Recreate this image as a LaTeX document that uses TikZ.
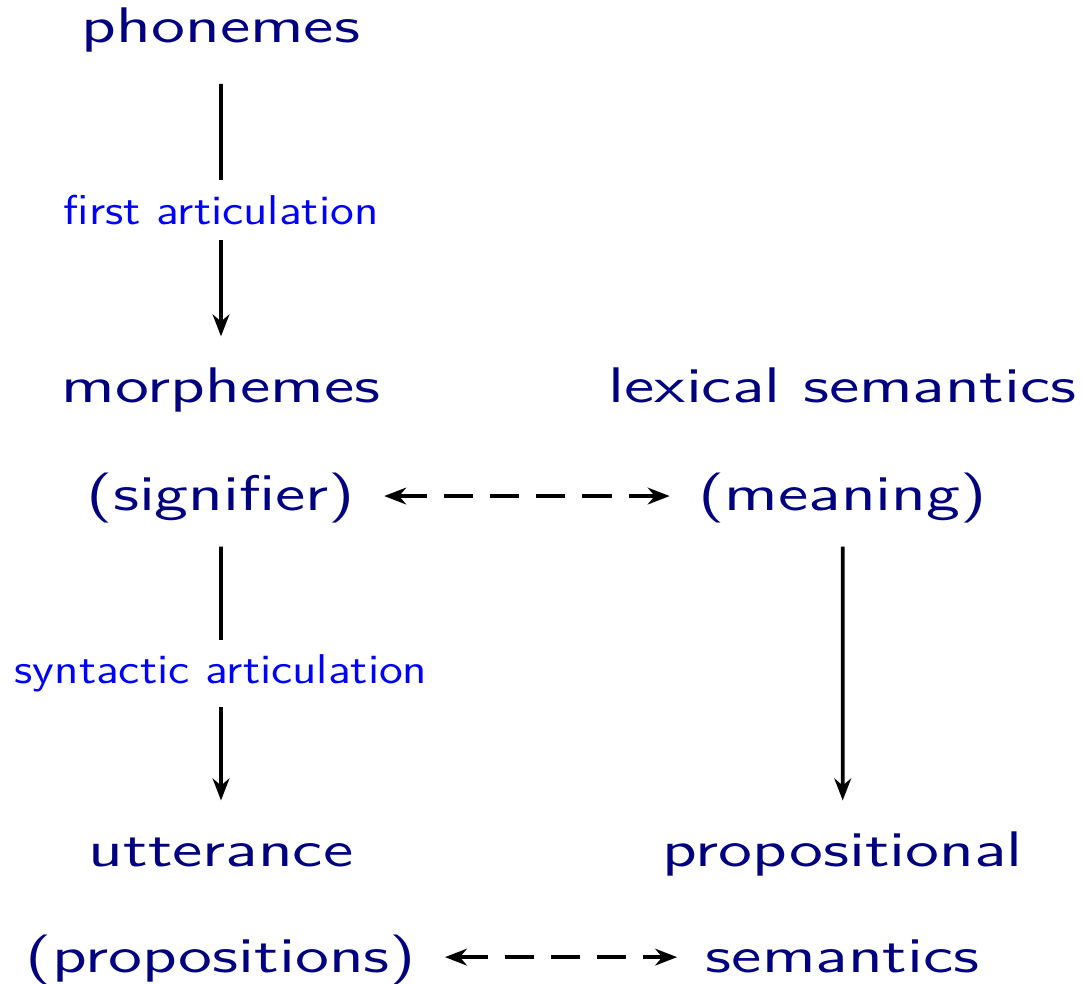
\documentclass[tikz,border=0pt]{standalone}
\usepackage{tikz}
\usetikzlibrary{arrows.meta}
\definecolor{termblue}{RGB}{0,0,128}
\tikzset{
  term/.style={text=termblue, font=\sffamily\Large, anchor=base, xscale=1.385, inner xsep=5.8pt, inner ysep=7.2pt, text height=11.5pt, text depth=2.9pt},
  artlabel/.style={text=blue, font=\sffamily\large, fill=white, xscale=1.165, inner xsep=1pt, inner ysep=4.3pt},
  downarrow/.style={-{Stealth[length=6.3pt,width=4.8pt,inset=2pt]}, line width=1.1pt},
  linkarrow/.style={{Stealth[length=6.3pt,width=4.8pt,inset=2pt]}-{Stealth[length=6.3pt,width=4.8pt,inset=2pt]}, line width=1.1pt, dash pattern=on 8.4pt off 4.9pt},
}

\begin{document}
\begin{tikzpicture}
  \useasboundingbox (0,0) rectangle (10.952,-9.950);

  % left column: expression
  \node[term] (phon)   at (2.237,-0.435) {phonemes};
  \node[term] (morph)  at (2.237,-4.069) {morphemes};
  \node[term] (signif) at (2.237,-5.172) {(signifier)};
  \node[term] (utter)  at (2.237,-8.766) {utterance};
  \node[term] (propos) at (2.237,-9.839) {(propositions)};

  % right column: content
  \node[term] (lexsem) at (8.530,-4.069) {lexical semantics};
  \node[term] (mean)   at (8.530,-5.172) {(meaning)};
  \node[term] (propal) at (8.530,-8.766) {propositional};
  \node[term] (sem)    at (8.530,-9.839) {semantics};

  \draw[downarrow] ([yshift=-1.5pt]phon.south) -- node[artlabel] {first articulation} (morph);
  \draw[downarrow] (signif) -- node[artlabel] {syntactic articulation} (utter);
  \draw[downarrow] (mean) -- (propal);

  \draw[linkarrow] (signif.east) -- (mean.west);
  \draw[linkarrow] (propos.east) -- (sem.west);
\end{tikzpicture}
\end{document}
